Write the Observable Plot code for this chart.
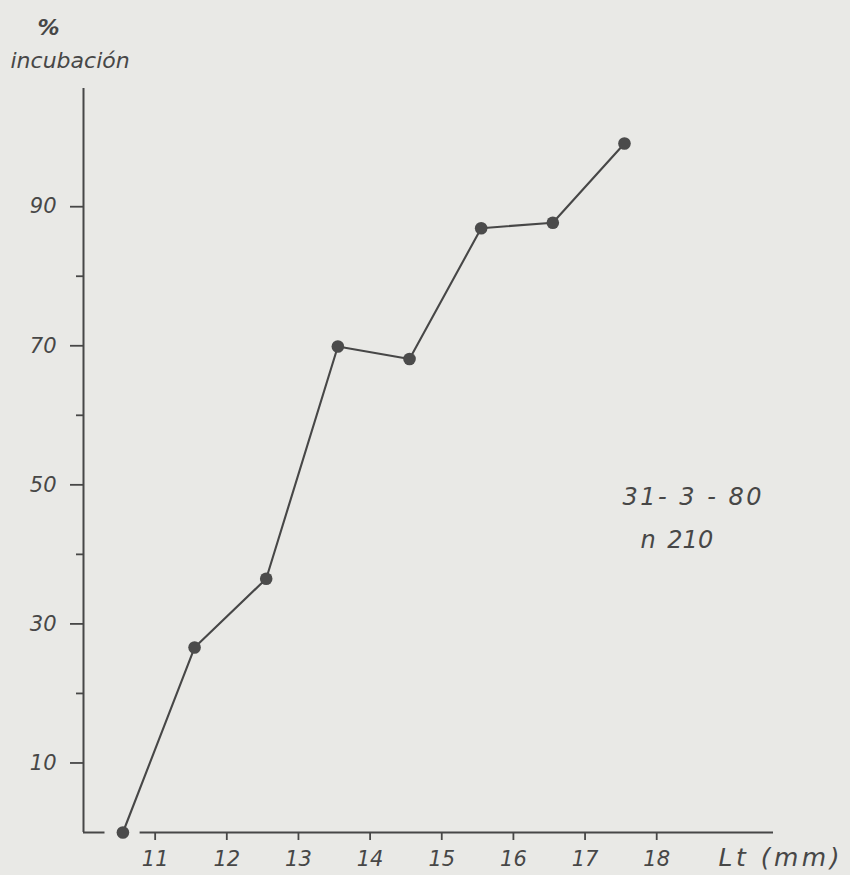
<!DOCTYPE html>
<html><head><meta charset="utf-8">
<script src="https://cdn.jsdelivr.net/npm/d3@7"></script>
<script src="https://cdn.jsdelivr.net/npm/@observablehq/plot@0.6"></script>
<style>
html,body{margin:0;padding:0;background:#e9e9e6;}
</style></head><body><div id="chart"></div>
<script>
// Data
const lengthMm = [10.55, 11.55, 12.55, 13.55, 14.55, 15.55, 16.55, 17.55];
const incubacion = [0, 26.6, 36.5, 69.9, 68.1, 86.9, 87.7, 99.1];
const xTicks = [11, 12, 13, 14, 15, 16, 17, 18];
const yMajorTicks = [10, 30, 50, 70, 90];
const yMinorTicks = [20, 40, 60, 80];
const yLabelLines = ["%", "incubación"];
const xLabel = ["Lt (mm)"];
const annotationLines = ["31- 3 - 80", "n 210"];
const xDomain = [10, 19.63];
const yDomain = [0, 107];
const xAxisBreak = [10.30, 10.79];

const ink = "#474747";
const data = lengthMm.map((x, i) => ({x, y: incubacion[i]}));
const yAxisLine = [{x: xDomain[0], y1: yDomain[0], y2: yDomain[1]}];
const xAxisLine = [
  {y: 0, x1: xDomain[0], x2: xAxisBreak[0]},
  {y: 0, x1: xAxisBreak[1], x2: xDomain[1]}
];

const chart = Plot.plot({
  width: 850,
  height: 875,
  marginLeft: 83,
  marginRight: 77,
  marginTop: 88,
  marginBottom: 43,
  x: {domain: xDomain},
  y: {domain: yDomain},
  style: {fontFamily: "DejaVu Sans", fontStyle: "italic", background: "transparent", color: ink},
  marks: [
    Plot.ruleX(yAxisLine, {x: "x", y1: "y1", y2: "y2", stroke: ink, strokeWidth: 2}),
    Plot.ruleY(xAxisLine, {y: "y", x1: "x1", x2: "x2", stroke: ink, strokeWidth: 2}),
    Plot.axisY({ticks: yMajorTicks, tickSize: 13, tickPadding: 14, fontSize: 21, label: null, strokeWidth: 1.8, stroke: ink}),
    Plot.axisY({ticks: yMinorTicks, tickSize: 7, tickFormat: () => "", label: null, strokeWidth: 1.8, stroke: ink}),
    Plot.axisX({ticks: xTicks, tickSize: 8, tickPadding: 11, fontSize: 21, label: null, strokeWidth: 1.8, stroke: ink}),
    Plot.line(data, {x: "x", y: "y", stroke: ink, strokeWidth: 2.1}),
    Plot.dot(data, {x: "x", y: "y", r: 6.3, fill: "#4b4b4b"}),
    Plot.text([yLabelLines[0]], {text: d => d, frameAnchor: "top-left", dx: -46, dy: -69, fontSize: 22, fontWeight: "bold", fill: ink}),
    Plot.text([yLabelLines[1]], {text: d => d, frameAnchor: "top-left", dx: -73, dy: -36, fontSize: 22, textAnchor: "start", fill: ink}),
    Plot.text(xLabel, {text: d => d, frameAnchor: "bottom-left", dx: 635, dy: 33, fontSize: 25, textAnchor: "start", fill: ink}),
    Plot.text([annotationLines[0]], {text: d => d, frameAnchor: "top-left", dx: 539, dy: 399, fontSize: 24, textAnchor: "start", fill: ink}),
    Plot.text([annotationLines[1]], {text: d => d, frameAnchor: "top-left", dx: 557, dy: 442, fontSize: 24, textAnchor: "start", fill: ink})
  ]
});
d3.select(chart).selectAll("text").each(function() {
  const t = this.textContent;
  if (t === xLabel[0]) this.style.letterSpacing = "3.5px";
  if (t === annotationLines[0]) this.style.letterSpacing = "2.5px";
  if (t === annotationLines[1]) this.style.wordSpacing = "4px";
});
document.getElementById("chart").append(chart);
</script></body></html>
